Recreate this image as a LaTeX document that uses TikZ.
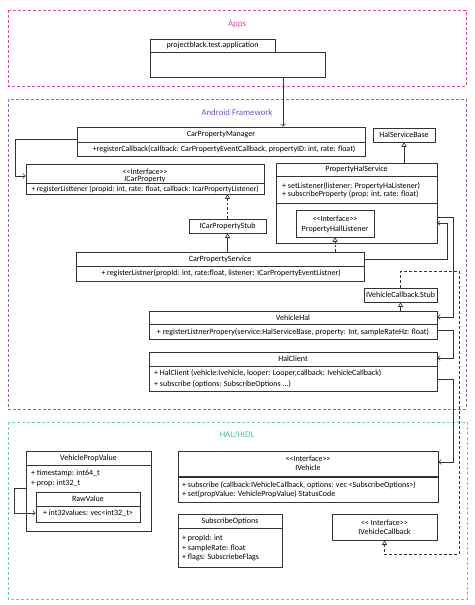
\documentclass[tikz,border=0pt]{standalone}
\usepackage{fontspec}
\setmainfont{Carlito}
\usetikzlibrary{arrows.meta}
\definecolor{appsc}{HTML}{E0479E}
\definecolor{fwc}{HTML}{7A6AE6}
\definecolor{halc}{HTML}{5FD0B0}
\definecolor{fwt}{HTML}{6655E0}
\definecolor{halt}{HTML}{45C58E}
\definecolor{linec}{HTML}{333333}
\newcommand{\dfs}{\fontsize{8}{9}\selectfont}
\newcommand{\lfs}{\fontsize{8.8}{10}\selectfont}
\tikzset{
  cls/.style={draw=linec, line width=0.6pt, fill=white, inner sep=0pt, rectangle},
  txt/.style={inner sep=0pt, font=\dfs, text=black},
  ltxt/.style={txt, anchor=west},
  frame/.style={dashed, dash pattern=on 3pt off 2pt, line width=0.6pt},
  divl/.style={draw=linec, line width=0.6pt},
  assoc/.style={draw=linec, line width=0.6pt, -{Straight Barb[length=2.5pt,width=5pt]}},
  inherit/.style={draw=linec, line width=0.6pt, -{Triangle[open,length=4.5pt,width=5pt]}},
  realize/.style={inherit, dash pattern=on 2.5pt off 2pt},
  realizeline/.style={draw=linec, line width=0.6pt, dash pattern=on 3pt off 2pt, -{Triangle[open,length=4.5pt,width=5pt]}}
}
\begin{document}
\begin{tikzpicture}[x=1pt,y=-1pt]
\useasboundingbox (0,0) rectangle (474,605);
\fill[white] (0,0) rectangle (474,605);
% frames
\draw[frame, draw=appsc] (8,10) rectangle (466,86);
\node[txt, text=appsc, font=\lfs] (lapps) at (237,24) {Apps};
\draw[frame, draw=fwc] (8,99) rectangle (466,409);
\node[txt, text=fwt, font=\lfs] (lfw) at (237,112) {Android Framework};
\draw[frame, draw=halc] (8,422) rectangle (467,599);
\node[txt, text=halt, font=\lfs] (lhal) at (237,435) {HAL/HIDL};

% package
\node[cls, minimum width=125pt, minimum height=13pt] (ptab) at (212.5,45.5) {};
\node[txt] (tptab) at (ptab.center) {projectblack.test.application};
\node[cls, minimum width=175pt, minimum height=25pt] (pbody) at (237.5,64.5) {};

% CarPropertyManager
\node[cls, minimum width=288pt, minimum height=29pt] (cpm) at (221,141.5) {};
\draw[divl] (cpm.west |- 0,142) -- (cpm.east |- 0,142);
\node[txt] (tcpm1) at (221,134.5) {CarPropertyManager};
\node[txt] (tcpm2) at (224,149.5) {+registerCallback(callback: CarPropertyEventCallback, propertyID: int, rate: float)};

% HalServiceBase
\node[cls, minimum width=62pt, minimum height=14pt] (hsb) at (404,135) {};
\node[txt] (thsb) at (hsb.center) {HalServiceBase};

% PropertyHalService
\node[cls, minimum width=161pt, minimum height=80pt] (phs) at (356.5,203) {};
\draw[divl] (phs.west |- 0,176) -- (phs.east |- 0,176);
\draw[divl] (phs.west |- 0,203) -- (phs.east |- 0,203);
\node[txt] (tphs1) at (356.5,169.5) {PropertyHalService};
\node[ltxt] (tphs2) at (282,186) {+ setListener(listener: PropertyHaListener)};
\node[ltxt] (tphs3) at (282,194.5) {+ subscribeProperty (prop: int, rate: float)};
\node[cls, minimum width=78pt, minimum height=27pt] (phl) at (335,223.5) {};
\node[txt] (tphl1) at (335,218.5) {<{}<Interface>{}>};
\node[txt] (tphl2) at (335,229) {PropertyHallListener};

% ICarProperty
\node[cls, minimum width=238pt, minimum height=30pt] (icp) at (145,179) {};
\draw[divl] (icp.west |- 0,183) -- (icp.east |- 0,183);
\node[txt] (ticp1) at (145,172) {<{}<Interface>{}>};
\node[txt] (ticp2) at (145,180) {ICarProperty};
\node[txt, font=\fontsize{7.7}{9}\selectfont] (ticp3) at (145,189) {+ registerListtener (propid: int, rate: float, callback: IcarPropertyListener)};

% ICarPropertyStub
\node[cls, minimum width=77pt, minimum height=14pt] (stub) at (227.5,226) {};
\node[txt] (tstub) at (stub.center) {ICarPropertyStub};

% CarPropertyService
\node[cls, minimum width=288pt, minimum height=29pt] (cps) at (220,266.5) {};
\draw[divl] (cps.west |- 0,266) -- (cps.east |- 0,266);
\node[txt] (tcps1) at (220,259) {CarPropertyService};
\node[txt] (tcps2) at (221,273.5) {+ registerListner(propId: int, rate:float, listener: ICarPropertyEventListner)};

% IVehicleCallback.Stub
\node[cls, minimum width=73pt, minimum height=14pt] (ivcbs) at (400.5,295) {};
\node[txt] (tivcbs) at (ivcbs.center) {IVehicleCallback.Stub};

% VehicleHal
\node[cls, minimum width=288pt, minimum height=28pt] (vhal) at (293,325) {};
\draw[divl] (vhal.west |- 0,324) -- (vhal.east |- 0,324);
\node[txt] (tvhal1) at (293,317.5) {VehicleHal};
\node[txt] (tvhal2) at (293,332) {+ registerListnerPropery(service:HalServiceBase, property: Int, sampleRateHz: float)};

% HalClient
\node[cls, minimum width=288pt, minimum height=39pt] (hc) at (293,371.5) {};
\draw[divl] (hc.west |- 0,366) -- (hc.east |- 0,366);
\node[txt] (thc1) at (293,358.5) {HalClient};
\node[ltxt] (thc2) at (154,373.5) {+ HalClient (vehicle:Ivehicle, looper: Looper,callback: IvehicleCallback)};
\node[ltxt] (thc3) at (154,384) {+ subscribe (options: SubscribeOptions ...)};

% VehiclePropValue
\node[cls, minimum width=125pt, minimum height=80pt] (vpv) at (88.5,491) {};
\draw[divl] (vpv.west |- 0,465) -- (vpv.east |- 0,465);
\node[txt] (tvpv1) at (88.5,458) {VehiclePropValue};
\node[ltxt] (tvpv2) at (31,473) {+ timestamp: int64\_t};
\node[ltxt] (tvpv3) at (31,483) {+ prop: int32\_t};
\node[cls, minimum width=104pt, minimum height=30pt] (raw) at (88,507) {};
\draw[divl] (raw.west |- 0,506) -- (raw.east |- 0,506);
\node[txt] (traw1) at (88,499) {RawValue};
\node[txt] (traw2) at (88,513.5) {+ int32values: vec<int32\_t>};

% IVehicle
\node[cls, minimum width=260pt, minimum height=51pt] (iveh) at (308,476.5) {};
\draw[divl, line width=1.1pt] (iveh.west |- 0,477) -- (iveh.east |- 0,477);
\node[txt] (tiveh1) at (308,459) {<{}<Interface>{}>};
\node[txt] (tiveh2) at (308,468) {IVehicle};
\node[ltxt] (tiveh3) at (182,485) {+ subscribe (callback:IVehicleCallback, options: vec <SubscribeOptions>)};
\node[ltxt] (tiveh4) at (182,494.5) {+ set(propValue: VehiclePropValue) StatusCode};

% SubscribeOptions
\node[cls, minimum width=104pt, minimum height=53pt] (so) at (230,540.5) {};
\draw[divl] (so.west |- 0,528) -- (so.east |- 0,528);
\node[txt] (tso1) at (230,521) {SubscribeOptions};
\node[ltxt] (tso2) at (182,538.5) {+ propId: int};
\node[ltxt] (tso3) at (182,548.5) {+ sampleRate: float};
\node[ltxt] (tso4) at (182,557.5) {+ flags: SubscriebeFlags};

% IVehicleCallback
\node[cls, minimum width=105pt, minimum height=26pt] (ivcb) at (384.5,527) {};
\node[txt] (tivcb1) at (384.5,522.5) {<{}< Interface>{}>};
\node[txt] (tivcb2) at (384.5,532) {IVehicleCallback};

% connectors
\draw[assoc] (pbody.south -| 283,0) -- (cpm.north -| 283,0);
\draw[assoc] (cpm.west |- 0,139) -- (15,139) -- (15,176) -- (icp.west |- 0,176);
\draw[inherit] (phs.north -| hsb.south) -- (hsb.south);
\draw[realize] (stub.north) -- (stub.north |- icp.south);
\draw[inherit] (cps.north -| stub.south) -- (stub.south);
\draw[realize] (cps.north -| phl.south) -- (phl.south);
\draw[assoc] (cps.east |- 0,259) -- (447,259) -- (447,223) -- (phs.east |- 0,223);
\draw[assoc] (phs.east |- 0,217) -- (453,217) -- (453,317) -- (vhal.east |- 0,317);
\draw[inherit] (vhal.north -| ivcbs.south) -- (ivcbs.south);
\draw[assoc] (vhal.east |- 0,330) -- (453,330) -- (453,358) -- (hc.east |- 0,358);
\draw[assoc] (hc.east |- 0,379) -- (453,379) -- (453,462) -- (iveh.east |- 0,462);
\draw[realizeline] (ivcbs.north) -- (ivcbs.north |- 0,271) -- (459,271) -- (459,554) -- (ivcb.south |- 0,554) -- (ivcb.south);
\draw[assoc] (vpv.west |- 0,488) -- (14,488) -- (14,513) -- (raw.west |- 0,513);
\end{tikzpicture}
\end{document}
